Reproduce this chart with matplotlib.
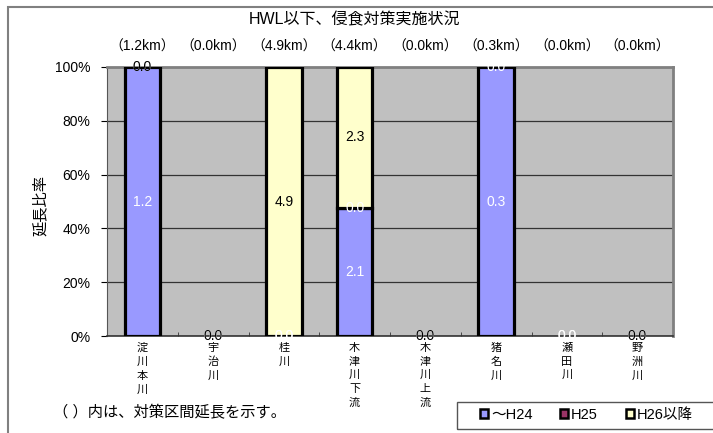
import numpy as np
import matplotlib
matplotlib.use("Agg")
import matplotlib.pyplot as plt
from matplotlib.patches import Rectangle

plt.rcParams['font.family'] = ['Liberation Sans', 'Noto Sans CJK JP']

# Data (km)
rivers = ['淀川本川', '宇治川', '桂川', '木津川下流', '木津川上流', '猪名川', '瀬田川', '野洲川']
h24 = np.array([1.2, 0.0, 0.0, 2.1, 0.0, 0.3, 0.0, 0.0])
h25 = np.array([0.0, 0.0, 0.0, 0.0, 0.0, 0.0, 0.0, 0.0])
h26 = np.array([0.0, 0.0, 4.9, 2.3, 0.0, np.nan, np.nan, 0.0])
series_names = ['～H24', 'H25', 'H26以降']
colors = ['#9999FF', '#993366', '#FFFFCC']
label_colors = ['white', 'white', 'black']

series = [h24, h25, h26]
total = np.nansum(np.vstack(series), axis=0)

fig = plt.figure(figsize=(7.13, 4.33), dpi=100)
ax = fig.add_axes([107/713, 1-336/433, 566/713, 269/433])
ax.set_facecolor('#C0C0C0')

x = np.arange(len(rivers))
bottom = np.zeros(len(rivers))
handles = []
for vals, col, lc, name in zip(series, colors, label_colors, series_names):
    v = np.nan_to_num(vals)
    pct = np.where(total > 0, v / np.where(total > 0, total, 1) * 100, 0)
    lw = np.where(pct > 0, 2.3, 0)
    ax.bar(x, pct, 0.5, bottom=bottom, color=col, edgecolor='black',
           linewidth=lw, zorder=3)
    handles.append(Rectangle((0, 0), 1, 1, facecolor=col, edgecolor='black', linewidth=1.8))
    for i in range(len(rivers)):
        if np.isnan(vals[i]):
            continue
        yc = bottom[i] + pct[i] / 2
        ax.text(x[i], yc, f'{vals[i]:.1f}', color=lc, ha='center', va='center',
                fontsize=10, zorder=5)
    bottom = bottom + pct

ax.set_xlim(-0.5, len(rivers) - 0.5)
ax.set_ylim(0, 100)
ax.set_yticks(np.arange(0, 101, 20))
ax.set_yticklabels([f'{t}%' for t in range(0, 101, 20)], fontsize=10)
ax.yaxis.grid(True, color='#333333', linewidth=0.9, zorder=1)
ax.set_axisbelow(True)
ax.tick_params(axis='y', length=4, width=0.8, pad=8, direction='out')

ax.set_xticks(x)
ax.set_xticklabels(['\n'.join(r) for r in rivers], fontsize=8, linespacing=1.45)
ax.tick_params(axis='x', length=0, pad=5)
ax.set_xticks(np.arange(0.5, len(rivers) - 0.5, 1), minor=True)
ax.tick_params(axis='x', which='minor', length=3, direction='in', color='#333333')

for s in ['top', 'right']:
    ax.spines[s].set_color('#808080')
    ax.spines[s].set_linewidth(2)
ax.spines['left'].set_color('#555555')
ax.spines['bottom'].set_color('#333333')
ax.spines['bottom'].set_linewidth(1.2)

fig.text(40/713, 1-205/433, '延長比率', rotation=90, ha='center', va='center', fontsize=11)

# totals above bars
for i in range(len(rivers)):
    ax.text(x[i], 107.5, f'（{total[i]:.1f}km）', ha='center', va='center', fontsize=10)

fig.text(355/713, 1-20/433, 'HWL以下、侵食対策実施状況', ha='center', va='center', fontsize=11.5)
fig.text(53/713, 1-413/433, '（ ）内は、対策区間延長を示す。', ha='left', va='center', fontsize=11)

# outer border
fig.patches.append(Rectangle((8/713, -0.1), 1.2, 1.1 - 7/433, transform=fig.transFigure,
                             fill=False, edgecolor='#808080', linewidth=1.5))
# legend box
fig.patches.append(Rectangle((457/713, 1-429/433), 0.5, 27/433, transform=fig.transFigure,
                             fill=False, edgecolor='#555555', linewidth=1.0))
fig.legend(handles, series_names, loc='center left', bbox_to_anchor=(480/713, 1-415/433),
           ncol=3, fontsize=10.5, frameon=False,
           handlelength=0.55, handleheight=0.55, handletextpad=0.2, columnspacing=1.9,
           borderpad=0, borderaxespad=0)

fig.savefig('out.png', dpi=100)
